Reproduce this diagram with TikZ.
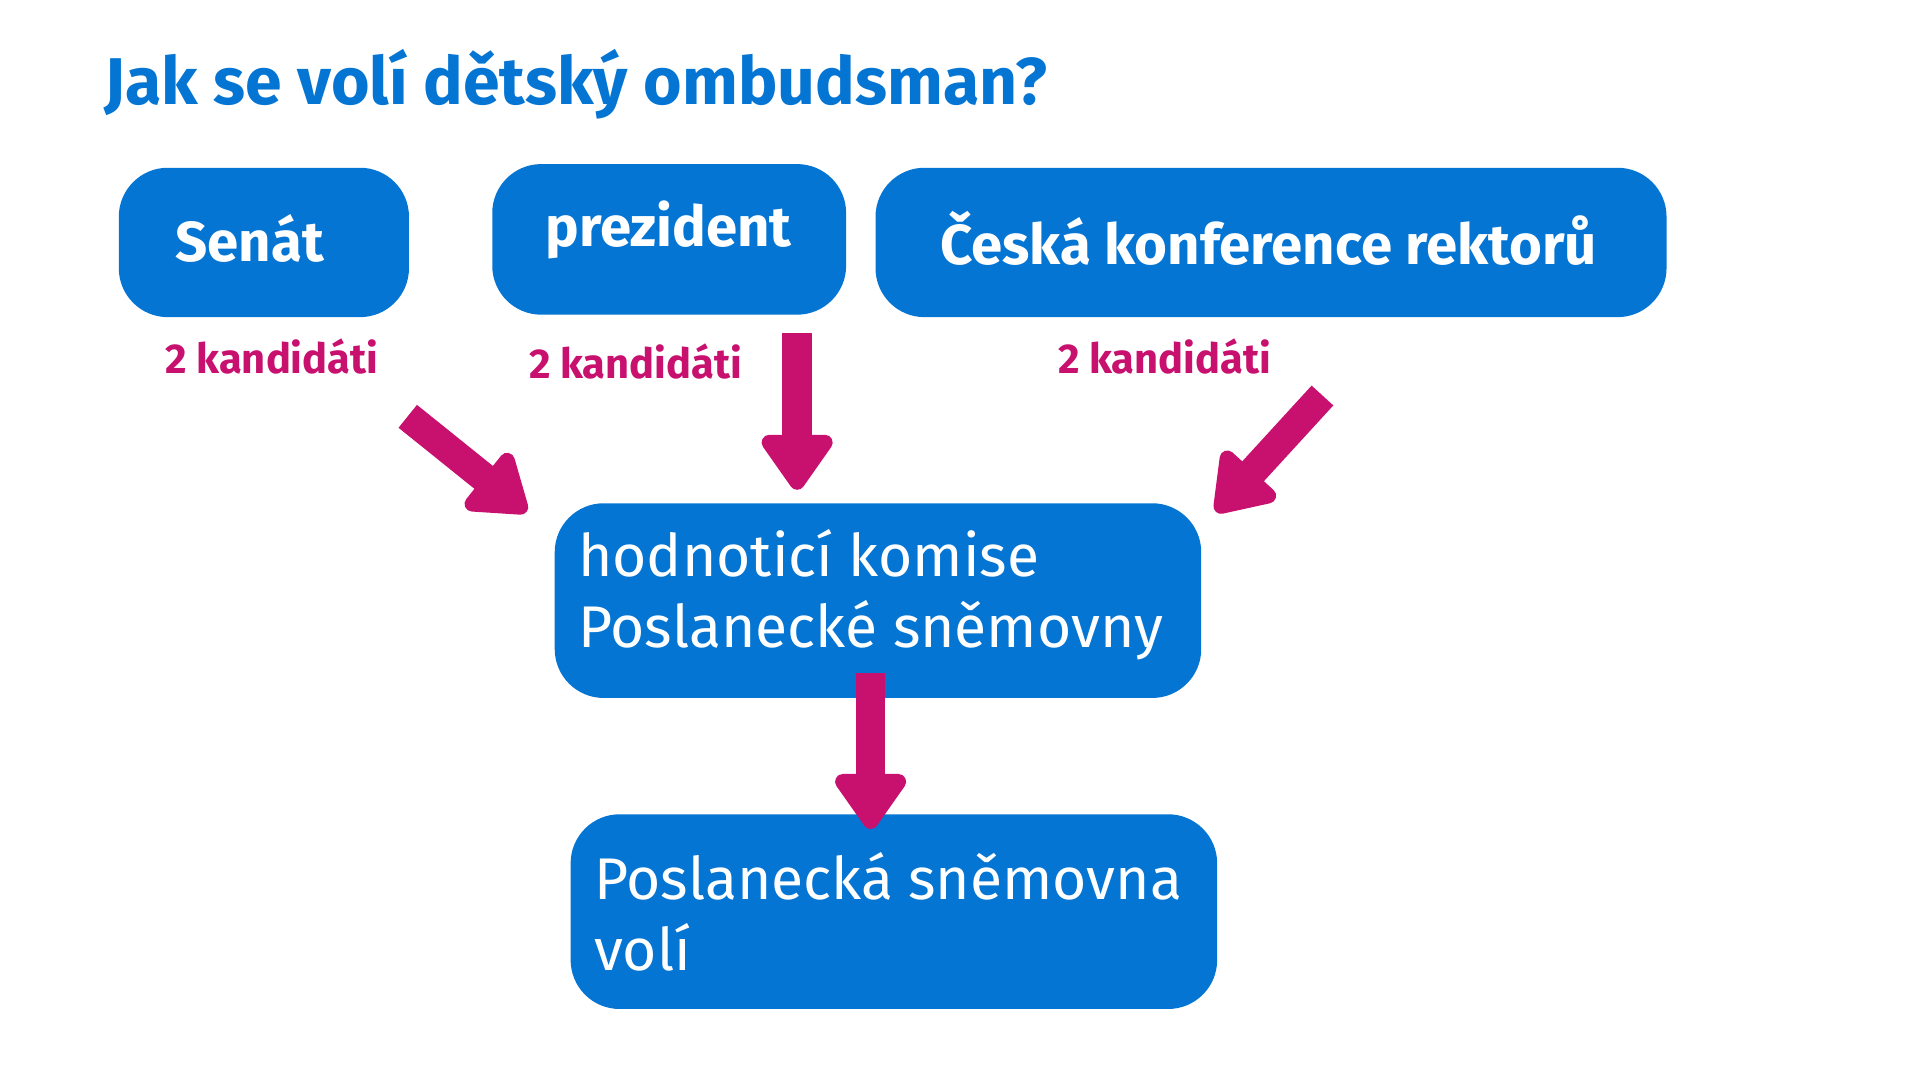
\documentclass[tikz,border=0pt]{standalone}
\usepackage{fontspec}
\setmainfont{Fira Sans}
\usetikzlibrary{arrows.meta}
\definecolor{obl}{RGB}{5,117,212}
\definecolor{mag}{RGB}{200,16,110}
\tikzset{
 box/.style={draw=none,fill=obl,rounded corners=40pt,text=white},
 lbl/.style={text=mag,font=\bfseries\fontsize{34}{40}\selectfont},
 bar/.style={draw=mag,line width=24pt,line join=round,-{Triangle[width=66pt,length=50pt,round]}}
}
\begin{document}
\begin{tikzpicture}[x=1pt,y=-1pt]
\useasboundingbox (0,0) rectangle (1568,882);
\node[anchor=base west,text=obl,font=\bfseries\fontsize{54}{60}\selectfont,inner sep=0] (title) at (85,85) {Jak se volí dětský ombudsman?};
\fill[box] (97,137) rectangle (334,259); \node[text=white,font=\bfseries\fontsize{46}{50}\selectfont] (senat) at (204,195) {Senát};
\fill[box] (402,134) rectangle (691,257); \node[text=white,font=\bfseries\fontsize{46}{50}\selectfont] (prez) at (546,188) {prezident};
\fill[box] (715,137) rectangle (1361,259); \node[text=white,font=\bfseries\fontsize{46}{50}\selectfont] (ckr) at (1036,195) {Česká konference rektorů};
\fill[box] (453,411) rectangle (981,570);
\node[anchor=west,align=left,text=white,font=\fontsize{48}{58}\selectfont,inner sep=0] (komise) at (472,486) {hodnoticí komise\\Poslanecké sněmovny};
\fill[box] (466,665) rectangle (994,824);
\node[anchor=west,align=left,text=white,font=\fontsize{48}{58}\selectfont,inner sep=0] (ps) at (485,745) {Poslanecká sněmovna\\volí};
\node[lbl] (k1) at (222,291) {2 kandidáti};
\node[lbl] (k2) at (519,295) {2 kandidáti};
\node[lbl] (k3) at (951,291) {2 kandidáti};
\coordinate (a1s) at (333,340); \coordinate (a1e) at (430,418);
\coordinate (a2s) at (651,272); \coordinate (a2e) at (651,400);
\coordinate (a3s) at (1080,323); \coordinate (a3e) at (993,418);
\coordinate (a4s) at (711,550); \coordinate (a4e) at (711,677);
\draw[bar] (a1s) -- (a1e);
\draw[bar] (a2s) -- (a2e);
\draw[bar] (a3s) -- (a3e);
\draw[bar] (a4s) -- (a4e);
\end{tikzpicture}
\end{document}
